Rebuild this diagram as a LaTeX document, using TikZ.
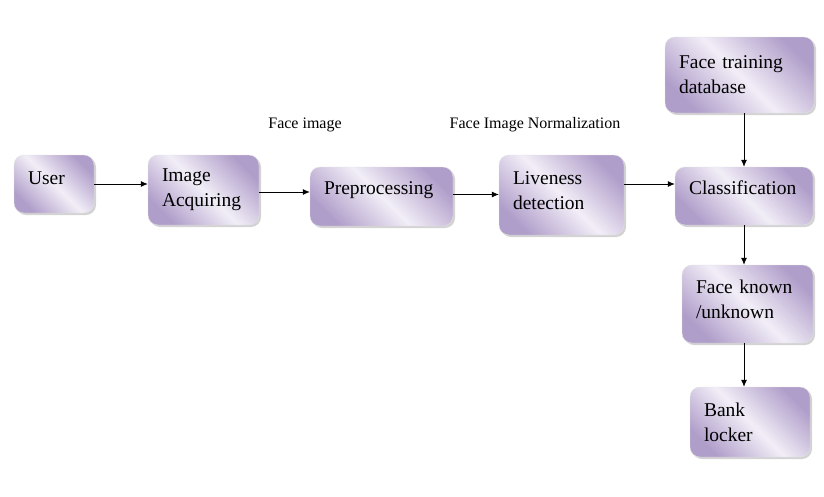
\documentclass[tikz,border=0pt]{standalone}
\usepackage{fontspec}
\setmainfont{Liberation Serif}
\usetikzlibrary{arrows.meta,shadows}
\definecolor{boxpurple}{RGB}{176,158,202}
\definecolor{boxlight}{RGB}{242,238,247}
\begin{document}
\begin{tikzpicture}[x=1pt,y=-1pt,
	block/.style={rounded corners=10pt, draw=black!12, left color=boxpurple, right color=boxpurple, middle color=boxlight, shading angle=-45,
		drop shadow={shadow xshift=2pt, shadow yshift=-2pt, opacity=0.35},
		align=left, inner xsep=14pt, font=\fontsize{19.5}{25}\selectfont},
	arr/.style={arrows={-Latex[length=7pt,width=6pt]}, line width=0.8},
	lbl/.style={font=\fontsize{16}{19}\selectfont}]
	\useasboundingbox (0,0) rectangle (824,496);
	% Blocks
	\node [block, minimum width=80, minimum height=58, text width=52, text depth=12pt] (user) at (54,184) {User};
	\node [block, minimum width=111, minimum height=70, text width=83] (acq) at (203.5,190) {Image\\Acquiring};
	\node [block, minimum width=143, minimum height=59, text width=115, text depth=16pt] (prep) at (381.5,196.5) {Preprocessing};
	\node [block, minimum width=125, minimum height=80, text width=97, text height=5pt] (live) at (561.5,195) {Liveness\\detection};
	\node [block, minimum width=149, minimum height=76, text width=121] (db) at (739.5,75) {Face training\\database};
	\node [block, minimum width=138, minimum height=58, text width=110, text depth=16pt] (class) at (744,196) {Classification};
	\node [block, minimum width=131, minimum height=78, text width=103, text height=3.5pt] (known) at (747.5,304) {Face known\\/unknown};
	\node [block, minimum width=120, minimum height=70, text width=92] (bank) at (750,422) {Bank\\locker};
	% Labels
	\node [lbl] (facelbl) at (305,125) {Face image};
	\node [lbl] (normlbl) at (535,125) {Face Image Normalization};
	% Arrows
	\draw [arr] (user.east) -- (user.east -| acq.west);
	\draw [arr] ([yshift=-2pt]acq.east) -- ([yshift=-2pt]acq.east -| prep.west);
	\draw [arr] ([yshift=2pt]prep.east) -- ([yshift=2pt]prep.east -| live.west);
	\draw [arr] ([yshift=11pt]live.east) -- ([yshift=11pt]live.east -| class.west);
	\draw [arr] (db.south -| class.north) -- (class.north);
	\draw [arr] (class.south) -- (class.south |- known.north);
	\draw [arr] (known.south -| class.south) -- (bank.north -| class.south);
\end{tikzpicture}
\end{document}
